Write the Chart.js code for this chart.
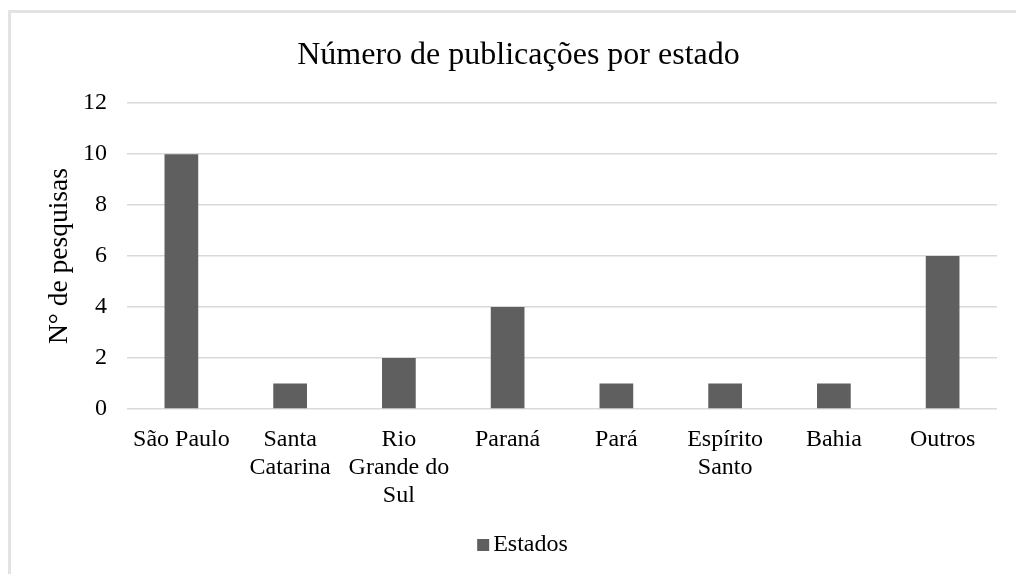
<!DOCTYPE html>
<html>
<head>
<meta charset="utf-8">
<script src="https://cdn.jsdelivr.net/npm/chart.js@4.4.0/dist/chart.umd.min.js"></script>
<style>
html,body{margin:0;padding:0;background:#fff;}
canvas{display:block;}
</style>
</head>
<body>
<canvas id="c" width="1016" height="574"></canvas>
<script>
const categories = ["São Paulo", ["Santa", "Catarina"], ["Rio", "Grande do", "Sul"], "Paraná", "Pará", ["Espírito", "Santo"], "Bahia", "Outros"];
const estados = [10, 1, 2, 4, 1, 1, 1, 6];
const yTicks = [0, 2, 4, 6, 8, 10, 12];
const titleText = "Número de publicações por estado";
const yTitle = "N° de pesquisas";
const seriesName = "Estados";

const FONT = "'Liberation Serif', 'Times New Roman', serif";
const BAR_COLOR = '#5f5f5f';

const framePlugin = {
  id: 'frame',
  beforeDraw(chart) {
    const ctx = chart.ctx;
    ctx.save();
    ctx.fillStyle = '#fff';
    ctx.fillRect(0, 0, chart.width, chart.height);
    ctx.fillStyle = '#e3e3e3';
    ctx.fillRect(8, 10, chart.width - 8, 3);
    ctx.fillRect(8, 10, 3, chart.height - 10);
    ctx.restore();
  },
  afterDraw(chart) {
    // legend swatch placed close to its text, as in the reference
    const lg = chart.legend;
    if (!lg || !lg.legendHitBoxes || !lg.legendHitBoxes.length) return;
    const hb = lg.legendHitBoxes[0];
    const ctx = chart.ctx;
    const textX = hb.left + 12 + 12;
    const cy = hb.top + hb.height / 2;
    ctx.save();
    ctx.fillStyle = BAR_COLOR;
    ctx.fillRect(textX - 4 - 12, cy - 6, 12, 12);
    ctx.restore();
  }
};

new Chart(document.getElementById('c'), {
  type: 'bar',
  data: {
    labels: categories,
    datasets: [{
      label: seriesName,
      data: estados,
      backgroundColor: BAR_COLOR,
      borderColor: BAR_COLOR,
      borderWidth: 0,
      categoryPercentage: 1,
      barPercentage: 0.31
    }]
  },
  options: {
    responsive: false,
    animation: false,
    devicePixelRatio: 1,
    layout: { padding: { top: 14, left: 40, right: 19, bottom: 7 } },
    plugins: {
      title: {
        display: true,
        text: titleText,
        color: '#000',
        font: { family: FONT, size: 32, weight: 'normal', lineHeight: 1.2 },
        padding: { top: 22, bottom: 28.8 }
      },
      legend: {
        display: true,
        position: 'bottom',
        labels: {
          color: '#000',
          font: { family: FONT, size: 24 },
          boxWidth: 12,
          boxHeight: 12,
          padding: 10,
          generateLabels(chart) {
            const items = Chart.defaults.plugins.legend.labels.generateLabels(chart);
            items.forEach(it => { it.fillStyle = 'rgba(0,0,0,0)'; it.strokeStyle = 'rgba(0,0,0,0)'; it.lineWidth = 0; });
            return items;
          }
        }
      },
      tooltip: { enabled: false }
    },
    scales: {
      x: {
        grid: { display: false, drawTicks: false },
        border: { display: false },
        ticks: {
          color: '#000',
          font: { family: FONT, size: 24, lineHeight: 28 / 24 },
          padding: 17,
          maxRotation: 0,
          autoSkip: false
        },
        afterFit(scale) { scale.height = 114; }
      },
      y: {
        min: 0,
        max: 12,
        afterBuildTicks(scale) { scale.ticks = yTicks.map(v => ({ value: v })); },
        grid: { color: '#d9d9d9', lineWidth: 1.5, drawTicks: false },
        border: { display: false },
        ticks: {
          color: '#000',
          font: { family: FONT, size: 24 },
          padding: 20
        },
        title: {
          display: true,
          text: yTitle,
          color: '#000',
          font: { family: FONT, size: 27.5, lineHeight: 1.2 },
          padding: { top: 3.5, bottom: 0 }
        },
        afterFit(scale) { scale.width = 87; }
      }
    }
  },
  plugins: [framePlugin]
});
</script>
</body>
</html>
